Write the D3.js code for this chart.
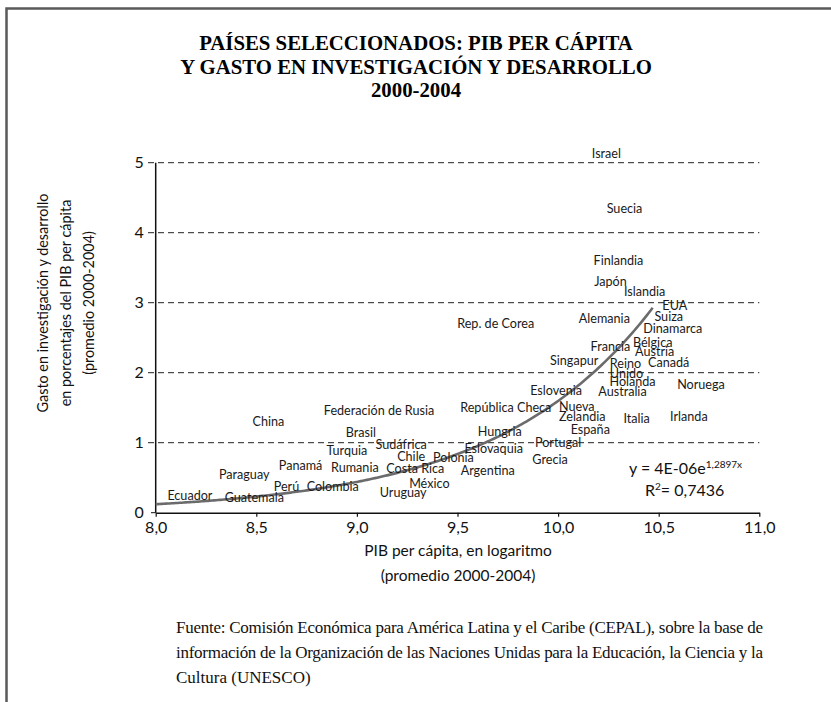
<!DOCTYPE html>
<html>
<head>
<meta charset="utf-8">
<script src="https://cdn.jsdelivr.net/npm/d3@7"></script>
<style>
  html, body { margin: 0; padding: 0; background: #fff; }
  svg { display: block; }
</style>
</head>
<body>
<svg id="chart" width="831" height="702"></svg>
<script>
// Country labels (no markers): log GDP per capita vs R&D spending (% of GDP)
const countries = ["Israel","Suecia","Finlandia","Japón","Islandia","EUA","Suiza","Dinamarca",
  "Alemania","Rep. de Corea","Francia","Bélgica","Austria","Singapur","Reino\nUnido","Canadá",
  "Holanda","Noruega","Australia","Eslovenia","República Checa","Nueva\nZelandia","Italia",
  "Irlanda","España","Hungria","Portugal","Eslovaquia","Grecia","Argentina","Polonia",
  "Costa Rica","México","Chile","Sudáfrica","Uruguay","Federación de Rusia","Brasil",
  "Turquia","Rumania","Colombia","Perú","Panamá","Paraguay","China","Ecuador","Guatemala"];
const logGdp = [10.24,10.33,10.30,10.26,10.43,10.58,10.55,10.57,
  10.23,9.69,10.26,10.47,10.48,10.08,10.34,10.55,
  10.37,10.71,10.32,9.99,9.74,10.12,10.39,
  10.65,10.16,9.71,10.00,9.68,9.96,9.65,9.48,
  9.29,9.36,9.27,9.22,9.23,9.11,9.02,
  8.95,8.99,8.88,8.65,8.72,8.44,8.56,8.17,8.49];
const rdSpend = [5.13,4.35,3.60,3.31,3.16,2.96,2.81,2.63,
  2.78,2.71,2.37,2.43,2.30,2.18,2.07,2.14,
  1.87,1.83,1.73,1.75,1.51,1.45,1.34,
  1.37,1.19,1.16,1.00,0.92,0.76,0.61,0.79,
  0.63,0.42,0.81,0.98,0.29,1.46,1.14,
  0.89,0.65,0.37,0.38,0.67,0.55,1.31,0.24,0.22];

// Exponential trend: y = a * e^(b x)
const trendA = 4e-6, trendB = 1.2897, trendR2 = "0,7436";
const trendFrom = 8.0, trendTo = 10.47;

const xTicks = [8.0, 8.5, 9.0, 9.5, 10.0, 10.5, 11.0];
const yTicks = [0, 1, 2, 3, 4, 5];

const titleLines = ["PAÍSES SELECCIONADOS: PIB PER CÁPITA",
  "Y GASTO EN INVESTIGACIÓN Y DESARROLLO", "2000-2004"];
const yTitleLines = ["Gasto en investigación y desarrollo",
  "en porcentajes del PIB per cápita", "(promedio 2000-2004)"];
const xTitleLines = ["PIB per cápita, en logaritmo", "(promedio 2000-2004)"];
const sourceLines = [
  "Fuente: Comisión Económica para América Latina y el Caribe (CEPAL), sobre la base de",
  "información de la Organización de las Naciones Unidas para la Educación, la Ciencia y la",
  "Cultura (UNESCO)"];

const svg = d3.select("#chart");
const sans = "Lato, 'Open Sans', sans-serif";
const serif = "'Liberation Serif', 'DejaVu Serif', serif";
const locale = d3.formatLocale({decimal: ",", thousands: ".", grouping: [3], currency: ["", ""]});
const fmt1 = locale.format(".1f");

// outer frame (left and top edges)
svg.append("path")
  .attr("d", "M6.5,702 L6.5,8.5 L831,8.5")
  .attr("fill", "none").attr("stroke", "#5a5a5a").attr("stroke-width", 2.5);

// title
svg.append("text")
  .attr("text-anchor", "middle")
  .style("font-family", serif).style("font-weight", "bold").style("font-size", "20.8px")
  .selectAll("tspan").data(titleLines).join("tspan")
  .attr("x", 416).attr("y", (d, i) => 50 + i * 23.5)
  .text(d => d);

const x = d3.scaleLinear().domain([8, 11]).range([155.7, 759.3]);
const y = d3.scaleLinear().domain([0, 5]).range([512.7, 162.7]);

// dashed horizontal gridlines
svg.append("g").selectAll("line").data(yTicks.filter(d => d > 0)).join("line")
  .attr("x1", 148).attr("x2", x(11))
  .attr("y1", d => y(d)).attr("y2", d => y(d))
  .attr("stroke", "#222").attr("stroke-width", 1)
  .attr("stroke-dasharray", "6,4");

// y axis
const yAxis = svg.append("g")
  .attr("transform", `translate(${x(8)},0)`)
  .call(d3.axisLeft(y).tickValues(yTicks).tickSize(0).tickPadding(12).tickFormat(d3.format("d")));
yAxis.select(".domain").remove();
yAxis.selectAll("text").style("font-family", sans).style("font-size", "16px").attr("fill", "#111");
svg.append("line")
  .attr("x1", x(8)).attr("x2", x(8)).attr("y1", y(5)).attr("y2", y(0))
  .attr("stroke", "#111").attr("stroke-width", 1.5);
svg.append("line")
  .attr("x1", 151).attr("x2", x(8)).attr("y1", y(0)).attr("y2", y(0))
  .attr("stroke", "#111").attr("stroke-width", 1);

// x axis
const xAxis = svg.append("g")
  .attr("transform", `translate(0,${y(0)})`)
  .call(d3.axisBottom(x).tickValues(xTicks).tickSizeInner(4).tickSizeOuter(0)
    .tickPadding(5).tickFormat(fmt1));
xAxis.select(".domain").attr("stroke", "#111").attr("stroke-width", 1.5);
xAxis.selectAll(".tick line").attr("stroke", "#111").attr("stroke-width", 1.2);
xAxis.selectAll("text").style("font-family", sans).style("font-size", "16px").attr("fill", "#111");

// trend line
const trendX = d3.range(trendFrom, trendTo + 1e-9, 0.01);
svg.append("path")
  .datum(trendX)
  .attr("fill", "none").attr("stroke", "#6b6b6b").attr("stroke-width", 2.6)
  .attr("d", d3.line().x(d => x(d)).y(d => y(trendA * Math.exp(trendB * d))));

// country labels centred on their values
const labels = svg.append("g")
  .style("font-family", sans).style("font-size", "12.6px").attr("fill", "#1a1a1a");
countries.forEach((name, i) => {
  const lines = name.split("\n");
  const t = labels.append("text")
    .attr("dominant-baseline", "central");
  if (lines.length === 1) {
    t.attr("x", x(logGdp[i])).attr("y", y(rdSpend[i]))
      .attr("text-anchor", "middle").text(name);
  } else {
    const lh = 10.5;
    t.attr("text-anchor", "start");
    const spans = t.selectAll("tspan").data(lines).join("tspan")
      .attr("y", (d, k) => y(rdSpend[i]) + (k - (lines.length - 1) / 2) * lh)
      .text(d => d);
    const w = d3.max(spans.nodes(), n => n.getComputedTextLength());
    spans.attr("x", x(logGdp[i]) - w / 2);
  }
});

// trend equation
const eq = svg.append("text")
  .attr("x", 629).attr("y", 473.5)
  .style("font-family", sans).style("font-size", "16px").attr("fill", "#111");
eq.append("tspan").text("y = 4E-06e");
eq.append("tspan").attr("dy", -6).style("font-size", "10px").text("1,2897x");
const r2 = svg.append("text")
  .attr("x", 645).attr("y", 496)
  .style("font-family", sans).style("font-size", "16px").attr("fill", "#111");
r2.append("tspan").text("R");
r2.append("tspan").attr("dy", -6).style("font-size", "10px").text("2");
r2.append("tspan").attr("dy", 6).text("= " + trendR2);

// y axis title (rotated)
const yt = svg.append("text")
  .attr("transform", "translate(42,303) rotate(-90)")
  .attr("text-anchor", "middle")
  .style("font-family", sans).style("font-size", "14.4px").attr("fill", "#111");
yt.selectAll("tspan").data(yTitleLines).join("tspan")
  .attr("x", 0).attr("y", (d, i) => i * 23)
  .attr("dominant-baseline", "central")
  .text(d => d);

// x axis title
svg.append("text")
  .attr("text-anchor", "middle")
  .style("font-family", sans).style("font-size", "15.5px").attr("fill", "#111")
  .selectAll("tspan").data(xTitleLines).join("tspan")
  .attr("x", 458).attr("y", (d, i) => 556 + i * 25)
  .text(d => d);

// source note, justified on the full lines
const src = svg.append("g")
  .style("font-family", serif).style("font-size", "17px").attr("fill", "#111");
sourceLines.forEach((line, i) => {
  const t = src.append("text").attr("x", 176).attr("y", 633 + i * 25).text(line);
  if (i < sourceLines.length - 1) {
    t.attr("textLength", 587).attr("lengthAdjust", "spacing");
  }
});
</script>
</body>
</html>
